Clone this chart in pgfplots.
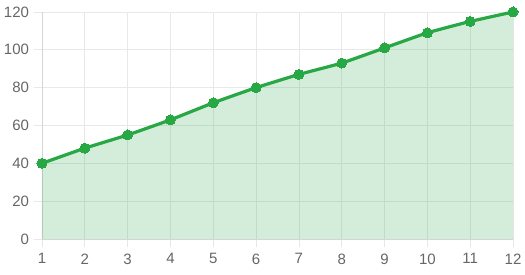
\documentclass[border=0pt]{standalone}
\usepackage{pgfplots}
\pgfplotsset{compat=1.18}
\usepackage{fontspec}
\setmainfont{Liberation Sans}
\definecolor{linegreen}{HTML}{28A745}
\definecolor{gridgray}{HTML}{E8E8E8}
\definecolor{axisgray}{HTML}{D4D4D4}
\definecolor{labelgray}{HTML}{666666}
\begin{document}
\begin{tikzpicture}
\begin{axis}[
  at={(0,0)}, anchor=south west,
  scale only axis,
  width=471pt, height=227pt,
  xmin=1, xmax=12, ymin=0, ymax=120,
  xtick={1,...,12}, ytick={0,20,...,120},
  grid=major,
  major grid style={draw=gridgray, line width=0.8pt},
  axis line style={draw=axisgray, line width=0.8pt},
  axis x line*=bottom, axis y line*=left,
  tick align=outside,
  major tick length=8pt,
  tick style={draw=gridgray, line width=0.8pt},
  tick label style={font=\fontsize{15}{17}\selectfont, text=labelgray},
  /pgf/number format/assume math mode=true,
  yticklabel style={xshift=-1.5pt},
  xticklabel style={yshift=-3pt},
  clip=false,
]
\addplot[draw=none, fill=linegreen, fill opacity=0.2, smooth, tension=0.25]
  coordinates {(1,40) (2,48) (3,55) (4,63) (5,72) (6,80) (7,87) (8,93) (9,101) (10,109) (11,115) (12,120)} \closedcycle;
\addplot[color=linegreen, line width=3.2pt, smooth, tension=0.25, no markers]
  coordinates {(1,40) (2,48) (3,55) (4,63) (5,72) (6,80) (7,87) (8,93) (9,101) (10,109) (11,115) (12,120)};
\addplot[color=linegreen, only marks, mark=*, mark size=5pt, mark options={draw=linegreen, fill=linegreen, line width=0pt}]
  coordinates {(1,40) (2,48) (3,55) (4,63) (5,72) (6,80) (7,87) (8,93) (9,101) (10,109) (11,115) (12,120)};
\end{axis}
\path[use as bounding box] (-42pt,-36pt) rectangle (483pt,239pt);
\end{tikzpicture}
\end{document}
